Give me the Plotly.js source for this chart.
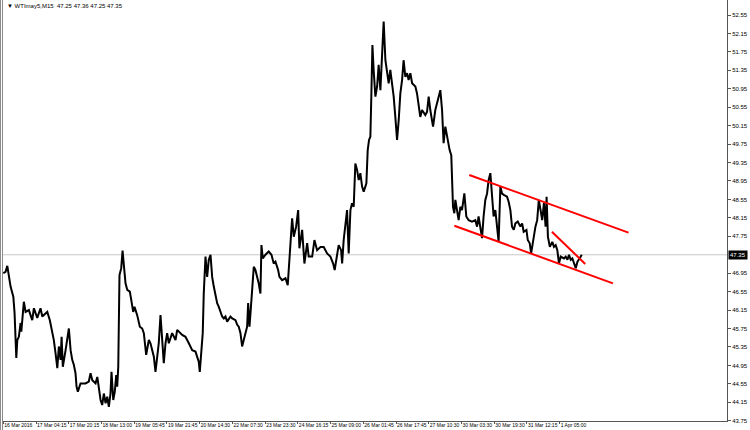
<!DOCTYPE html>
<html>
<head>
<meta charset="utf-8">
<script src="https://cdn.plot.ly/plotly-3.0.1.min.js"></script>
<style>
html,body{margin:0;padding:0;background:#fff;}
#wrap{position:relative;width:750px;height:430px;overflow:hidden;}
#chart{position:absolute;left:0;top:0;width:750px;height:430px;}
#frame{position:absolute;left:0;top:0;width:1px;height:430px;border-left:1px solid #8a8a8a;border-right:1px solid #8a8a8a;pointer-events:none;}
</style>
</head>
<body>
<div id="wrap"><div id="chart"></div><div id="frame"></div></div>
<script>
// time in 30-minute steps since the start of the visible history (MT4 bar axis, weekends skipped)
const barTime = [
0,2.2,3.9,5.5,7.1,9.8,11.0,12.7,13.7,15.2,16.9,17.6,18.6,20.1,21.8,25.0,28.3,29.9,33.2,36.4,38.1,43.0,45.5,47.9,49.4,51.1,52.8,54.3,56.0,57.0,58.2,60.9,64.1,65.8,67.4,69.0,70.6,71.6,72.9,75.5,80.4,83.6,85.3,87.0,90.2,91.9,93.4,95.1,96.7,98.3,100.0,101.6,103.2,104.8,105.8,107.5,109.0,110.4,111.4,112.4,113.6,115.3,116.6,117.8,119.5,121.2,123.7,125.1,127.0,128.3,130.9,133.5,135.8,137.4,139.7,142.3,
143.9,145.6,147.2,148.8,150.5,152.0,153.7,155.4,156.9,158.6,160.2,161.8,165.1,168.4,170.0,174.9,178.1,181.4,184.7,187.9,189.6,191.1,192.1,193.8,195.0,196.0,197.7,199.3,200.9,202.6,204.2,205.8,207.5,209.1,210.7,212.3,214.0,215.6,217.2,218.9,222.1,223.8,227.0,228.7,230.2,231.9,233.5,235.1,236.8,238.4,239.4,240.7,241.9,243.3,244.9,246.5,248.2,249.7,251.4,252.4,253.7,256.3,259.5,262.2,264.4,266.1,268.7,270.0,272.6,275.9,278.1,279.8,281.4,282.4,284.0,286.3,288.3,289.5,
292.2,294.4,297.1,298.6,302.0,304.2,306.8,310.1,313.3,316.6,319.8,322.5,324.0,326.4,327.9,330.3,331.3,332.8,334.5,336.1,337.7,339.4,341.0,342.6,344.2,345.9,347.5,349.1,350.8,352.4,355.0,356.3,357.6,358.9,359.9,360.9,362.1,363.8,365.5,367.0,368.7,370.3,371.9,373.6,375.2,376.8,378.4,380.1,381.7,383.3,385.0,386.6,388.2,389.9,391.4,393.1,394.8,396.3,398.0,399.7,402.9,404.5,406.1,407.7,409.4,412.6,414.3,415.9,417.5,420.2,422.4,424.1,427.3,429.0,430.5,432.2,433.9,436.4,
438.0,438.7,439.7,441.0,442.0,443.6,445.2,446.9,448.5,450.8,452.7,455.0,458.3,461.5,463.2,464.7,466.4,468.1,469.6,471.3,473.0,474.5,476.2,477.8,479.4,481.1,482.7,484.3,486.0,487.6,489.3,492.5,494.1,495.8,497.4,499.1,500.7,503.0,505.6,507.3,508.8,511.5,512.8,514.7,516.1,518.1,520.3,522.0,523.6,525.3,526.9,528.6,530.2,531.2,532.5,534.4,536.8,538.4,540.1,541.7,543.3,545.0,548.2,549.9,551.6,553.1,554.8,556.4,558.1,559.7,561.4,562.9,564.6,565.6
];
const priceWTI = [
46.95,46.98,47.11,46.87,46.66,46.44,46.09,45.11,45.50,45.57,45.87,45.68,45.90,46.33,46.11,46.15,45.93,46.19,45.98,46.19,46.01,46.11,45.93,45.65,45.50,45.21,44.89,45.36,45.07,45.57,44.92,45.28,45.75,45.28,45.07,44.96,44.78,44.49,44.38,44.56,44.56,44.60,44.78,44.63,44.56,44.70,44.49,44.20,44.09,44.34,44.13,44.27,44.05,44.34,44.81,44.20,44.38,44.74,44.49,44.92,46.91,47.06,47.44,47.09,46.73,46.59,46.55,46.37,46.11,46.22,46.04,45.79,45.75,45.65,45.18,45.50,
45.43,45.28,45.14,44.81,45.14,45.43,46.04,45.57,45.00,45.43,45.65,45.43,45.65,45.50,45.72,45.61,45.57,45.43,45.28,45.25,45.14,45.03,44.81,45.28,45.65,46.51,47.31,46.87,47.24,47.35,46.87,46.66,46.44,46.30,46.22,46.11,46.01,45.97,46.01,45.90,46.01,45.97,45.93,45.83,45.79,45.65,45.36,45.50,45.65,45.79,46.30,45.79,46.15,46.66,47.09,47.02,46.87,46.73,46.51,47.56,47.27,47.35,47.42,47.35,47.16,47.20,47.02,46.87,46.80,46.84,46.69,47.24,47.74,48.14,47.74,47.96,48.32,47.49,
47.89,47.16,47.60,47.31,47.31,47.67,47.45,47.52,47.52,47.38,47.31,47.16,47.02,47.31,47.56,47.45,47.16,47.67,48.03,48.32,47.38,48.32,48.47,48.39,49.33,49.19,48.97,49.12,48.83,48.72,48.90,49.62,49.84,49.91,50.85,51.90,51.36,50.78,51.00,51.47,50.92,51.65,52.41,51.57,51.36,51.07,51.36,51.07,50.78,50.34,49.84,50.27,50.85,51.14,51.57,51.21,51.29,51.14,51.29,51.07,51.00,50.85,50.56,50.34,50.49,50.38,50.45,50.78,50.49,50.13,50.49,50.63,50.92,50.49,49.77,50.13,49.91,49.62,
49.51,48.97,48.39,48.25,48.54,48.32,48.10,48.39,48.32,48.68,48.18,48.10,48.07,48.10,47.96,48.18,47.96,47.71,48.18,48.54,48.68,48.97,49.12,48.61,48.18,48.32,47.96,47.63,48.83,48.68,48.65,48.61,48.50,48.32,47.96,47.89,48.03,48.07,47.96,48.03,47.85,47.89,47.67,47.60,47.38,47.67,47.96,48.10,48.54,48.32,48.10,48.47,47.96,48.61,47.74,47.52,47.63,47.52,47.56,47.45,47.16,47.31,47.27,47.31,47.24,47.35,47.24,47.27,47.16,47.06,47.20,47.24,47.31,47.35
];

// hand-drawn trend lines (time, price)
const channelUpperT = [455.6, 611.3];
const channelUpperP = [49.08, 47.83];
const channelLowerT = [441.0, 596.1];
const channelLowerP = [47.98, 46.73];
const wedgeT = [536.4, 569.0];
const wedgeP = [47.85, 47.15];

const timeLabels = ["16 Mar 2016","17 Mar 04:15","17 Mar 20:15","18 Mar 13:00","19 Mar 05:45","19 Mar 21:45","20 Mar 14:30","22 Mar 07:30","23 Mar 23:30","24 Mar 16:15","25 Mar 09:00","26 Mar 01:45","26 Mar 17:45","27 Mar 10:30","30 Mar 03:30","30 Mar 19:30","31 Mar 12:15","1 Apr 05:00"];
const labelStep = 32; // 16 hours in 30-minute steps
const priceTicks = [43.75,44.15,44.55,44.95,45.35,45.75,46.15,46.55,46.95,47.75,48.15,48.55,48.95,49.35,49.75,50.15,50.55,50.95,51.35,51.75,52.15,52.55];
const priceTickText = priceTicks.map(v => v.toFixed(2));
const lastPrice = 47.35;
const header = "\u25BC WTImay5,M15  47.25 47.36 47.25 47.35";

const font = "'Liberation Sans Narrow', 'Liberation Sans', sans-serif";

const traces = [
  {x: barTime, y: priceWTI, type: 'scatter', mode: 'lines',
   line: {color: '#000000', width: 2}, hoverinfo: 'skip'},
  {x: channelUpperT, y: channelUpperP, type: 'scatter', mode: 'lines',
   line: {color: '#ff0000', width: 2}, hoverinfo: 'skip'},
  {x: channelLowerT, y: channelLowerP, type: 'scatter', mode: 'lines',
   line: {color: '#ff0000', width: 2}, hoverinfo: 'skip'},
  {x: wedgeT, y: wedgeP, type: 'scatter', mode: 'lines',
   line: {color: '#ff0000', width: 2}, hoverinfo: 'skip'}
];

const layout = {
  width: 750, height: 430,
  margin: {l: 3, r: 23, t: 0, b: 9, pad: 0},
  paper_bgcolor: '#ffffff', plot_bgcolor: '#ffffff',
  showlegend: false,
  font: {family: font, size: 6, color: '#000'},
  xaxis: {
    range: [-0.3, 707.6],
    showgrid: false, zeroline: false,
    showline: true, linecolor: '#555', linewidth: 1,
    tickmode: 'array',
    tickvals: timeLabels.map((_, i) => i * labelStep),
    ticktext: timeLabels,
    ticks: 'outside', ticklen: 2, tickcolor: '#555', tickwidth: 1,
    ticklabelposition: 'outside right',
    ticklabelstandoff: -1,
    tickangle: 0,
    tickfont: {family: font, size: 5, color: '#000'},
    fixedrange: true
  },
  yaxis: {
    side: 'right',
    range: [43.744, 52.876],
    showgrid: false, zeroline: false,
    showline: true, linecolor: '#555', linewidth: 1,
    tickmode: 'array', tickvals: priceTicks, ticktext: priceTickText,
    ticks: 'outside', ticklen: 3, tickcolor: '#555', tickwidth: 1,
    tickfont: {family: font, size: 6, color: '#000'},
    fixedrange: true
  },
  shapes: [
    {type: 'line', xref: 'paper', yref: 'y', x0: 0, x1: 1, y0: lastPrice, y1: lastPrice,
     line: {color: '#c8c8c8', width: 1}, layer: 'below'}
  ],
  annotations: [
    {xref: 'paper', yref: 'y', x: 1, y: lastPrice, xanchor: 'left', yanchor: 'middle',
     xshift: 1, text: lastPrice.toFixed(2), showarrow: false,
     bgcolor: '#000000', font: {family: font, size: 6, color: '#ffffff'}, borderpad: 1},
    {xref: 'paper', yref: 'paper', x: 0, y: 1, xanchor: 'left', yanchor: 'top',
     xshift: 2, yshift: -1, text: header, showarrow: false,
     font: {family: font, size: 6, color: '#000'}}
  ]
};

Plotly.newPlot('chart', traces, layout, {staticPlot: true, displayModeBar: false});
</script>
</body>
</html>
